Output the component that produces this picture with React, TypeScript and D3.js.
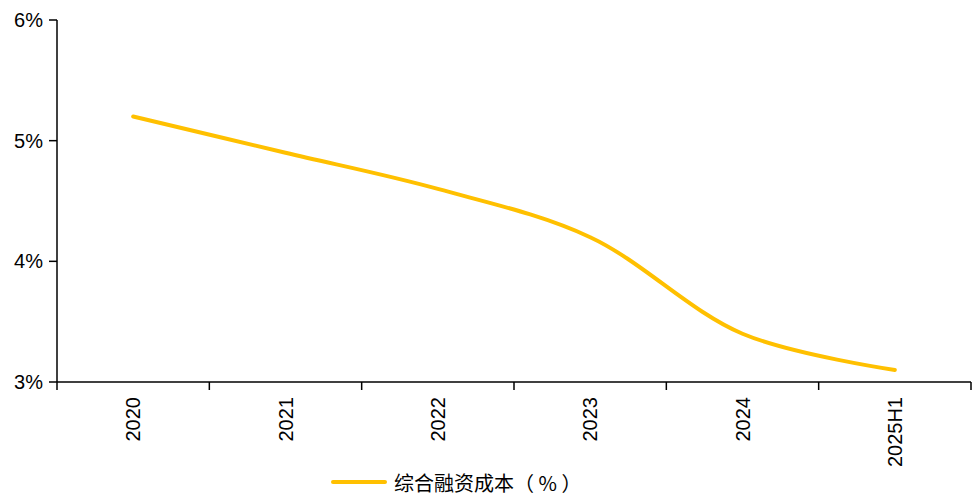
import React from "react";
import * as d3 from "d3";

const categories = ["2020", "2021", "2022", "2023", "2024", "2025H1"];
const costValues = [5.2, 4.9, 4.6, 4.2, 3.4, 3.1];
const yTicks = [3, 4, 5, 6];
const seriesName = "综合融资成本（ % ）";

const W = 980;
const H = 495;
const M = { left: 57, right: 9, top: 20, bottom: 113 };

export default function App() {
  const x = d3
    .scaleBand<string>()
    .domain(categories)
    .range([M.left, W - M.right])
    .padding(0);
  const y = d3.scaleLinear().domain([3, 6]).range([H - M.bottom, M.top]);

  const line = d3
    .line<number>()
    .x((_, i) => (x(categories[i]) as number) + x.bandwidth() / 2)
    .y((d) => y(d))
    .curve(d3.curveCatmullRom.alpha(0.5));

  const baseY = y(3);
  const boundaries = categories.map((c) => x(c) as number).concat([W - M.right]);
  const font = "'Liberation Sans', Arial, sans-serif";

  return (
    <svg
      width={W}
      height={H}
      style={{ position: "absolute", left: 0, top: 0, background: "#fff" }}
    >
      {/* y axis */}
      <line x1={M.left} x2={M.left} y1={M.top} y2={baseY} stroke="#000" strokeWidth={1.5} />
      {yTicks.map((t) => (
        <g key={t}>
          <line x1={M.left - 8} x2={M.left} y1={y(t)} y2={y(t)} stroke="#000" strokeWidth={1.5} />
          <text
            x={M.left - 14}
            y={y(t)}
            textAnchor="end"
            dominantBaseline="central"
            fontFamily={font}
            fontSize={20}
            fill="#000"
          >
            {t}%
          </text>
        </g>
      ))}

      {/* x axis */}
      <line x1={M.left} x2={W - M.right} y1={baseY} y2={baseY} stroke="#000" strokeWidth={1.5} />
      {boundaries.map((bx, i) => (
        <line key={i} x1={bx} x2={bx} y1={baseY} y2={baseY + 8} stroke="#000" strokeWidth={1.5} />
      ))}
      {categories.map((c) => {
        const cx = (x(c) as number) + x.bandwidth() / 2;
        const ty = baseY + 15;
        return (
          <text
            key={c}
            transform={`translate(${cx},${ty}) rotate(-90)`}
            textAnchor="end"
            dominantBaseline="central"
            fontFamily={font}
            fontSize={20}
            fill="#000"
          >
            {c}
          </text>
        );
      })}

      {/* series */}
      <path
        d={line(costValues) ?? ""}
        fill="none"
        stroke="#FFC000"
        strokeWidth={4}
        strokeLinecap="round"
      />

      {/* legend */}
      <line x1={333} x2={385} y1={482} y2={482} stroke="#FFC000" strokeWidth={4} strokeLinecap="round" />
      <text
        x={394}
        y={482}
        dominantBaseline="central"
        fontFamily="'Noto Sans CJK SC', sans-serif"
        fontSize={20}
        fill="#000"
        xmlSpace="preserve"
      >
        {seriesName}
      </text>
    </svg>
  );
}
